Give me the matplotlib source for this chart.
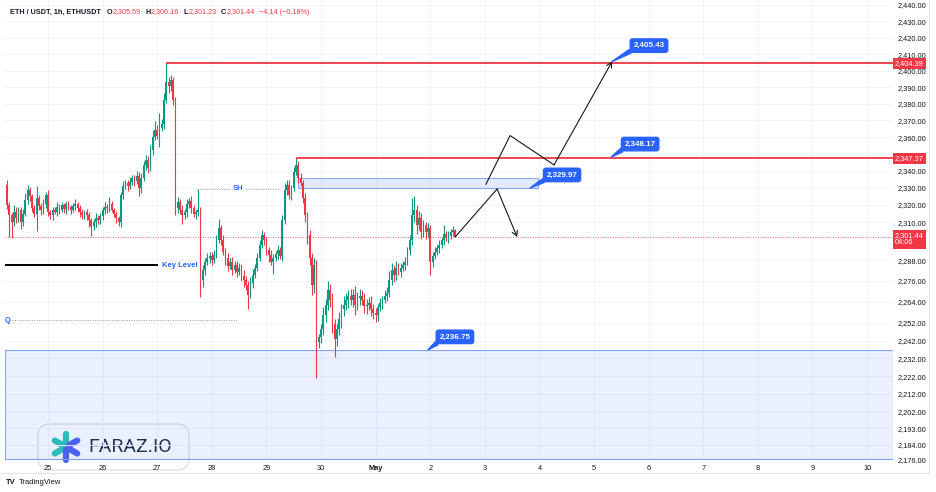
import matplotlib
matplotlib.use("Agg")
import matplotlib.pyplot as plt
import matplotlib.ticker as mticker
import matplotlib.transforms as mtransforms
from matplotlib.patches import Rectangle, FancyBboxPatch
from matplotlib.lines import Line2D
import numpy as np

plt.rcParams['font.family'] = ['Liberation Sans', 'DejaVu Sans']

UP = '#089981'
DOWN = '#f23645'
BLUE = '#2962ff'
INK = '#131722'

# hourly candles, hour 0 = Apr 25 00:00
hours = list(range(-18, 180))
first_open = 2331.7
closes = [
    2319.9, 2314.1, 2310.0, 2315.8, 2312.3, 2317.0, 2310.0, 2314.7, 2322.8, 2328.8, 2325.2, 2318.2,
    2314.7, 2324.0, 2319.3, 2317.0, 2320.5, 2325.8,
    # 25
    2315.8, 2314.1, 2317.0, 2315.8, 2318.8, 2317.0, 2319.9, 2317.6, 2320.5, 2318.8, 2317.0, 2319.3,
    2320.5, 2318.2, 2315.8, 2314.1, 2315.8, 2314.1, 2311.2, 2307.7, 2310.0, 2312.3, 2311.2, 2313.5,
    # 26
    2317.0, 2318.8, 2318.2, 2320.5, 2317.0, 2314.7, 2312.3, 2310.0, 2325.8, 2331.1, 2332.9, 2331.1,
    2333.5, 2335.9, 2334.1, 2337.1, 2330.0, 2335.9, 2343.7, 2346.7, 2342.0, 2352.5, 2360.3, 2364.4,
    # 27
    2360.9, 2365.6, 2368.0, 2382.3, 2393.1, 2390.7, 2394.3, 2382.3, 2318.2, 2321.7, 2317.0, 2314.1,
    2315.8, 2320.5, 2322.3, 2318.2, 2314.7, 2315.8, 2317.0, 2276.7, 2282.4, 2287.0, 2289.3, 2290.4,
    # 28
    2288.1, 2291.0, 2299.6, 2306.6, 2299.6, 2292.7, 2289.3, 2284.7, 2287.0, 2282.4, 2285.3, 2281.2,
    2283.5, 2279.0, 2276.7, 2273.9, 2268.1, 2275.0, 2279.6, 2283.5, 2289.3, 2296.7, 2302.5, 2299.6,
    # 29
    2293.8, 2291.0, 2287.0, 2289.3, 2291.5, 2293.8, 2290.4, 2311.2, 2328.8, 2331.7, 2325.8, 2330.0,
    2339.6, 2343.7, 2335.9, 2332.9, 2324.0, 2314.1, 2302.5, 2289.3, 2273.9, 2285.3, 2241.1, 2243.9,
    # 30
    2248.4, 2256.8, 2262.5, 2271.0, 2265.3, 2251.2, 2242.8, 2248.4, 2254.0, 2259.7, 2262.5, 2265.3,
    2267.6, 2265.3, 2268.1, 2262.5, 2266.4, 2267.6, 2265.3, 2261.9, 2262.5, 2263.6, 2259.7, 2257.4,
    # May 1
    2256.3, 2260.8, 2263.1, 2265.3, 2267.6, 2268.8, 2276.7, 2282.4, 2279.6, 2283.5, 2281.2, 2283.5,
    2285.3, 2287.0, 2293.8, 2299.6, 2314.1, 2317.0, 2308.3, 2312.3, 2304.2, 2308.3, 2304.2, 2306.6,
    # May 2
    2287.0, 2290.4, 2292.7, 2295.0, 2296.7, 2299.6, 2303.1, 2300.8, 2302.0, 2304.2, 2305.59, 2301.44,
]
upper_wick = [
    3, 2, 1, 4, 3, 2, 2, 3, 4, 3, 2, 1, 2, 7, 2, 2, 3, 2,
    3, 1, 2, 2, 3, 2, 2, 1, 2, 2, 1, 2, 3, 1, 2, 2, 1, 2, 2, 1, 2, 3, 2, 2,
    2, 3, 2, 4, 2, 1, 2, 1, 2, 3, 2, 2, 3, 2, 2, 3, 2, 3, 2, 3, 2, 3, 4, 5,
    3, 9, 3, 4, 11.29, 3, 3, 2, 2, 3, 2, 3, 2, 3, 2, 3, 2, 2, 12.4, 2, 3, 2, 3, 2,
    2, 3, 3, 5, 2, 3, 2, 3, 2, 3, 2, 2, 3, 2, 3, 2, 2, 3, 3, 2, 3, 3, 3, 2,
    2, 2, 3, 2, 2, 3, 2, 3, 4, 3, 3, 2, 3, 3.67, 2, 3, 2, 3, 2, 3, 3, 4, 3, 2,
    3, 4, 3, 5, 3, 4, 3, 3, 4, 3, 5, 4, 3, 4, 3, 5, 3, 4, 3, 4, 3, 3, 4, 3,
    3, 2, 3, 2, 3, 4, 5, 4, 3, 4, 3, 3, 2, 3, 2, 3, 10, 8, 3, 4, 3, 3, 2, 3,
    2, 2, 3, 2, 3, 2, 5, 2, 3, 2, 2, 0.57,
]
lower_wick = [
    2, 13, 9, 2, 3, 2, 4, 2, 1, 2, 3, 2, 2, 10, 2, 3, 2, 2,
    2, 2, 3, 1, 2, 2, 1, 2, 3, 2, 2, 1, 2, 2, 3, 2, 2, 3, 4, 6, 2, 3, 2, 2,
    2, 2, 3, 2, 1, 2, 3, 2, 3, 2, 2, 3, 2, 2, 3, 2, 5, 3, 2, 3, 3, 2, 3, 2,
    2, 7, 2, 3, 2, 4, 3, 3, 4, 3, 2, 5, 2, 3, 2, 3, 2, 3, 2, 10, 4, 3, 2, 3,
    3, 2, 2, 2, 3, 2, 4, 3, 2, 3, 2, 3, 2, 3, 4, 3, 8, 2, 3, 2, 2, 2, 2, 3,
    3, 4, 2, 7, 2, 3, 2, 3, 2, 3, 2, 3, 2, 2, 3, 2, 3, 4, 5, 4, 6, 5, 20, 3,
    3, 3, 4, 3, 4, 5, 10, 4, 3, 5, 4, 3, 5, 3, 4, 6, 3, 4, 3, 4, 5, 3, 4, 3,
    4, 3, 2, 3, 2, 3, 2, 3, 4, 3, 2, 3, 2, 3, 2, 3, 3, 4, 5, 3, 4, 3, 4, 3,
    7.5, 3, 2, 2, 3, 2, 3, 2, 3, 2, 2, 0.21,
]

day_ticks = list(range(0, 361, 24))
day_labels = ['25', '26', '27', '28', '29', '30', 'May', '2', '3', '4', '5', '6', '7', '8', '9', '10']
price_ticks = [2440, 2430, 2420, 2410, 2400, 2390, 2380, 2370, 2360, 2350, 2340, 2330, 2320, 2310,
               2288, 2276, 2264, 2252, 2242, 2232, 2222, 2212, 2202, 2193, 2184, 2176]

last_price = 2301.44
red_levels = [2404.39, 2347.37]
red_level_start = [52, 109]
key_level = 2285.1
key_level_end = 48.4
sh_level = 2329.4
sh_span = [65.5, 101.5]
q_level = 2253.5
q_span = [-15.8, 83.5]
box_hours = [110, 215.4]
box_prices = [2329.97, 2336.0]
zone_prices = [2176.0, 2236.75]
path_up_h = [192.5, 203.1, 222.4, 247.9]
path_up_p = [2332.2, 2361.0, 2343.6, 2405.43]
path_down_h = [179, 197.4, 206.2]
path_down_p = [2301.44, 2329.4, 2301.4]
callout_h = [247.9, 247.5, 211.9, 167.0]
callout_p = [2405.43, 2348.17, 2329.97, 2236.75]

opens = [first_open] + closes[:-1]
o = np.array(opens)
c = np.array(closes)
highs = np.maximum(o, c) + np.array(upper_wick)
lows = np.minimum(o, c) - np.array(lower_wick)
colors = [UP if cc >= oo else DOWN for oo, cc in zip(o, c)]

fig = plt.figure(figsize=(9.36, 4.92), dpi=100)
ax = fig.add_axes([5 / 936, 32 / 492, 888 / 936, 460 / 492])
ax.patch.set_visible(False)
ax.set_yscale('log')
ax.set_xlim(-18.9, 371.4)
ax.set_ylim(2175.5, 2443.1)

# background zones
ax.axhspan(zone_prices[0], zone_prices[1], fc=(0.16, 0.38, 1, 0.09), ec=(0.16, 0.38, 1, 0.55), lw=0.8, zorder=1)
ax.add_patch(Rectangle((box_hours[0], box_prices[0]), box_hours[1] - box_hours[0], box_prices[1] - box_prices[0],
                       fc=(0.16, 0.38, 1, 0.13), ec=(0.16, 0.38, 1, 0.5), lw=0.8, zorder=2))

# candles
ax.vlines(hours, lows, highs, colors=colors, lw=0.8, zorder=3)
ax.bar(hours, c - o, bottom=o, width=0.75, color=colors, lw=0, zorder=4)

# levels
ax.axhline(last_price, color=DOWN, lw=0.6, ls=(0, (1, 2)), zorder=2)
for lvl, start in zip(red_levels, red_level_start):
    ax.hlines(lvl, start, 371.4, color=DOWN, lw=1.3, zorder=5)
ax.hlines(key_level, -18.9, key_level_end, color='black', lw=1.4, zorder=5)
ax.text(key_level_end + 1.7, key_level, 'Key Level', color=BLUE, fontsize=5.5, fontweight='bold', va='center', zorder=6)
ax.hlines(sh_level, sh_span[0], sh_span[1], color='#9598a1', lw=0.7, ls=(0, (1, 1.5)), zorder=5)
ax.text(sum(sh_span) / 2, sh_level, 'SH', color=BLUE, fontsize=5.5, fontweight='bold', ha='center', va='center',
        zorder=6, bbox=dict(boxstyle='square,pad=0.2', fc='white', ec='none'))
ax.hlines(q_level, q_span[0], q_span[1], color='#9598a1', lw=0.7, ls=(0, (1, 1.5)), zorder=5)
ax.text(q_span[0] - 0.8, q_level, 'Q', color=BLUE, fontsize=5.5, fontweight='bold', ha='right', va='center', zorder=6)

# projected paths
for ph, pp in [(path_up_h, path_up_p), (path_down_h, path_down_p)]:
    ax.plot(ph[:-1], pp[:-1], color=INK, lw=0.8, zorder=6)
    ax.annotate('', xy=(ph[-1], pp[-1]), xytext=(ph[-2], pp[-2]),
                arrowprops=dict(arrowstyle='->,head_length=0.35,head_width=0.2', color=INK, lw=0.8,
                                shrinkA=0, shrinkB=0), zorder=6)

# callouts
offsets = [(26.6, 11.5), (20.9, 9.4), (23.0, 9.4), (19.4, 9.4)]
for h, p, (dx, dy) in zip(callout_h, callout_p, offsets):
    ax.annotate(f'{p:,.2f}', xy=(h, p), xytext=(dx, dy), textcoords='offset points',
                ha='center', va='center', color='white', fontsize=5.8, fontweight='bold', zorder=8,
                bbox=dict(boxstyle='round,pad=0.4,rounding_size=0.3', fc=BLUE, ec=BLUE),
                arrowprops=dict(arrowstyle='wedge,tail_width=0.5,shrink_factor=0.5', fc=BLUE, ec=BLUE,
                                relpos=(0.08, 0.15), shrinkA=0, shrinkB=0))

# axes styling
ax.yaxis.tick_right()
ax.yaxis.set_major_locator(mticker.FixedLocator(price_ticks))
ax.yaxis.set_major_formatter(mticker.FuncFormatter(lambda v, _: f'{v:,.2f}'))
ax.yaxis.set_minor_locator(mticker.NullLocator())
ax.yaxis.set_minor_formatter(mticker.NullFormatter())
ax.set_xticks(day_ticks)
ax.set_xticklabels(day_labels)
for lab in ax.get_xticklabels():
    if lab.get_text() == 'May':
        lab.set_fontweight('bold')
ax.tick_params(axis='y', length=0, pad=3, labelsize=5.3, labelcolor=INK)
ax.tick_params(axis='x', length=0, pad=3.5, labelsize=5.3, labelcolor=INK)
ax.grid(True, color='#f0f3fa', lw=0.7, zorder=0)
ax.set_axisbelow(True)
for s in ax.spines.values():
    s.set_visible(False)

# price scale tags
tag_tr = mtransforms.offset_copy(mtransforms.blended_transform_factory(ax.transAxes, ax.transData),
                                 fig=fig, x=1.5, y=0, units='points')
for lvl in red_levels:
    ax.text(1.0, lvl, f'{lvl:,.2f}', transform=tag_tr, ha='left', va='center', color='white',
            fontsize=5.3, clip_on=False, zorder=10,
            bbox=dict(boxstyle='square,pad=0.3', fc=DOWN, ec='none'))
cur_tr = mtransforms.offset_copy(mtransforms.blended_transform_factory(ax.transAxes, ax.transData),
                                 fig=fig, x=1.5, y=3.5, units='points')
ax.text(1.0, last_price, f'{last_price:,.2f}\n04:06', transform=cur_tr, ha='left', va='top', color='white',
        fontsize=5.3, linespacing=1.1, clip_on=False, zorder=10,
        bbox=dict(boxstyle='square,pad=0.3', fc=DOWN, ec='none'))

# header
pieces = [('ETH / USDT, 1h, ETHUSDT', INK, 0), ('O', INK, 4), ('2,305.59', DOWN, 0.5), ('H', INK, 3),
          ('2,306.16', DOWN, 0.5), ('L', INK, 3), ('2,301.23', DOWN, 0.5), ('C', INK, 3),
          ('2,301.44', DOWN, 0.5), ('\u22124.14 (\u22120.18%)', DOWN, 3)]
prev = fig.text(10 / 936, 1 - 12 / 492, pieces[0][0], color=pieces[0][1], fontsize=5.2, va='center',
                fontweight='bold')
for txt, col, gap in pieces[1:]:
    prev = ax.annotate(txt, xy=(1, 0), xycoords=prev, xytext=(gap, 0), textcoords='offset points',
                       color=col, fontsize=5.2, va='bottom', annotation_clip=False,
                       fontweight='bold' if col == INK else 'normal')

# widget borders
fig.add_artist(Line2D([0, 929 / 936], [1 - 473 / 492] * 2, color='#e0e3eb', lw=0.8))
fig.add_artist(Line2D([929 / 936] * 2, [1 - 473 / 492, 1], color='#e0e3eb', lw=0.8))

# TradingView footer
fig.text(6 / 936, 1 - 483 / 492, 'TV', color=INK, fontsize=5.5, fontweight='bold', va='center')
fig.text(19 / 936, 1 - 483 / 492, 'TradingView', color=INK, fontsize=5.5, va='center')

# FARAZ.IO watermark, kept under the chart layer so the date labels stay visible
lax = fig.add_axes([37 / 936, 21 / 492, 153 / 936, 48 / 492])
lax.set_zorder(ax.get_zorder() - 1)
lax.set_xlim(0, 153)
lax.set_ylim(0, 48)
lax.axis('off')
lax.add_patch(FancyBboxPatch((1, 1), 151, 46, boxstyle='round,pad=0,rounding_size=12',
                             fc='white', ec='#d5d9e2', lw=0.8))
cx, cy = 29, 24
for ang, col in [(90, '#2cc5b1'), (150, '#2cc5b1'), (210, '#2cc5b1'), (270, '#4f63f0'), (330, '#4f63f0'),
                 (30, '#4f63f0')]:
    r = np.deg2rad(ang)
    lax.plot([cx + 3 * np.cos(r), cx + 13 * np.cos(r)], [cy + 3 * np.sin(r), cy + 13 * np.sin(r)],
             color=col, lw=4.5, solid_capstyle='round')
lax.text(51, 24, 'FARAZ.IO', fontsize=14, color='#1f2a3c', va='center', ha='left', family='Roboto')

fig.savefig('out.png', dpi=100, facecolor='white')
